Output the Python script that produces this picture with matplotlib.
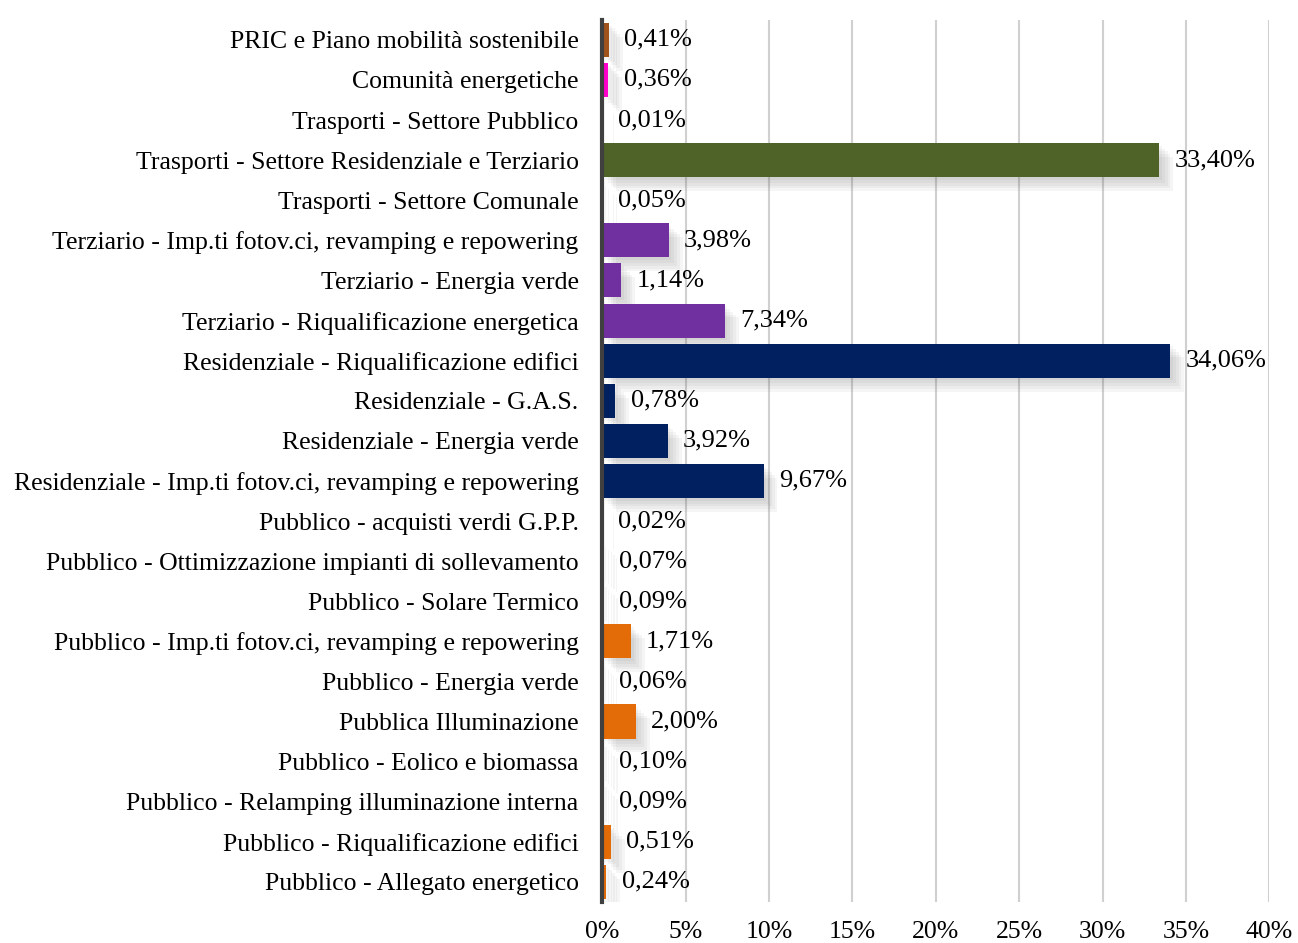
import matplotlib.pyplot as plt
import matplotlib.patheffects as pe
import numpy as np

categories = [
    "PRIC e Piano mobilità sostenibile",
    "Comunità energetiche",
    "Trasporti - Settore Pubblico",
    "Trasporti - Settore Residenziale e Terziario",
    "Trasporti - Settore Comunale",
    "Terziario - Imp.ti fotov.ci, revamping e repowering",
    "Terziario - Energia verde",
    "Terziario - Riqualificazione energetica",
    "Residenziale - Riqualificazione edifici",
    "Residenziale - G.A.S.",
    "Residenziale - Energia verde",
    "Residenziale - Imp.ti fotov.ci, revamping e repowering",
    "Pubblico - acquisti verdi G.P.P.",
    "Pubblico - Ottimizzazione impianti di sollevamento",
    "Pubblico - Solare Termico",
    "Pubblico - Imp.ti fotov.ci, revamping e repowering",
    "Pubblico - Energia verde",
    "Pubblica Illuminazione",
    "Pubblico - Eolico e biomassa",
    "Pubblico - Relamping illuminazione interna",
    "Pubblico - Riqualificazione edifici",
    "Pubblico - Allegato energetico",
]
values = [0.41, 0.36, 0.01, 33.40, 0.05, 3.98, 1.14, 7.34, 34.06, 0.78, 3.92, 9.67,
          0.02, 0.07, 0.09, 1.71, 0.06, 2.00, 0.10, 0.09, 0.51, 0.24]
groups = ["pric", "comunita"] + ["trasporti"] * 3 + ["terziario"] * 3 + ["residenziale"] * 4 + ["pubblico"] * 10

group_colors = {
    "pric": "#a0541c",
    "comunita": "#ff00cc",
    "trasporti": "#4f6228",
    "terziario": "#7030a0",
    "residenziale": "#002060",
    "pubblico": "#e36c09",
}

plt.rcParams["font.family"] = ["Liberation Serif", "DejaVu Serif"]

fig = plt.figure(figsize=(12.98, 9.43), dpi=100)
ax = fig.add_axes([0.464, 0.0435, 0.514, 0.9355])

n = len(categories)
y = np.arange(n)[::-1]
colors = [group_colors[g] for g in groups]

bars = ax.barh(y, values, height=0.85, color=colors, zorder=3)
# soft drop shadow, built from a few faint layers
shadow = [pe.SimplePatchShadow(offset=(o, -o), shadow_rgbFace="#606060", alpha=0.06)
          for o in (2, 4, 6, 8, 10)]
for b in bars:
    b.set_path_effects(shadow + [pe.Normal()])

for yi, v in zip(y, values):
    ax.annotate(f"{v:.2f}%".replace(".", ","), xy=(v, yi), xytext=(11, 0),
                textcoords="offset points", va="center", ha="left", fontsize=19, zorder=4)

ax.set_xlim(0, 40)
ax.set_ylim(-0.5, n - 0.5)
ax.set_xticks(np.arange(0, 41, 5))
ax.set_xticklabels([f"{t}%" for t in range(0, 41, 5)], fontsize=18.5)
ax.set_yticks(y)
ax.set_yticklabels(categories, fontsize=18.5)
ax.tick_params(length=0)
ax.tick_params(axis="y", pad=17)
ax.tick_params(axis="x", pad=14)

ax.xaxis.grid(True, color="#d0d0d0", linewidth=1.5, zorder=0)
ax.set_axisbelow(True)
for s in ["top", "right", "bottom"]:
    ax.spines[s].set_visible(False)
ax.spines["left"].set_color("#404040")
ax.spines["left"].set_linewidth(3)
ax.spines["left"].set_zorder(5)

plt.savefig("out.png", dpi=100)
